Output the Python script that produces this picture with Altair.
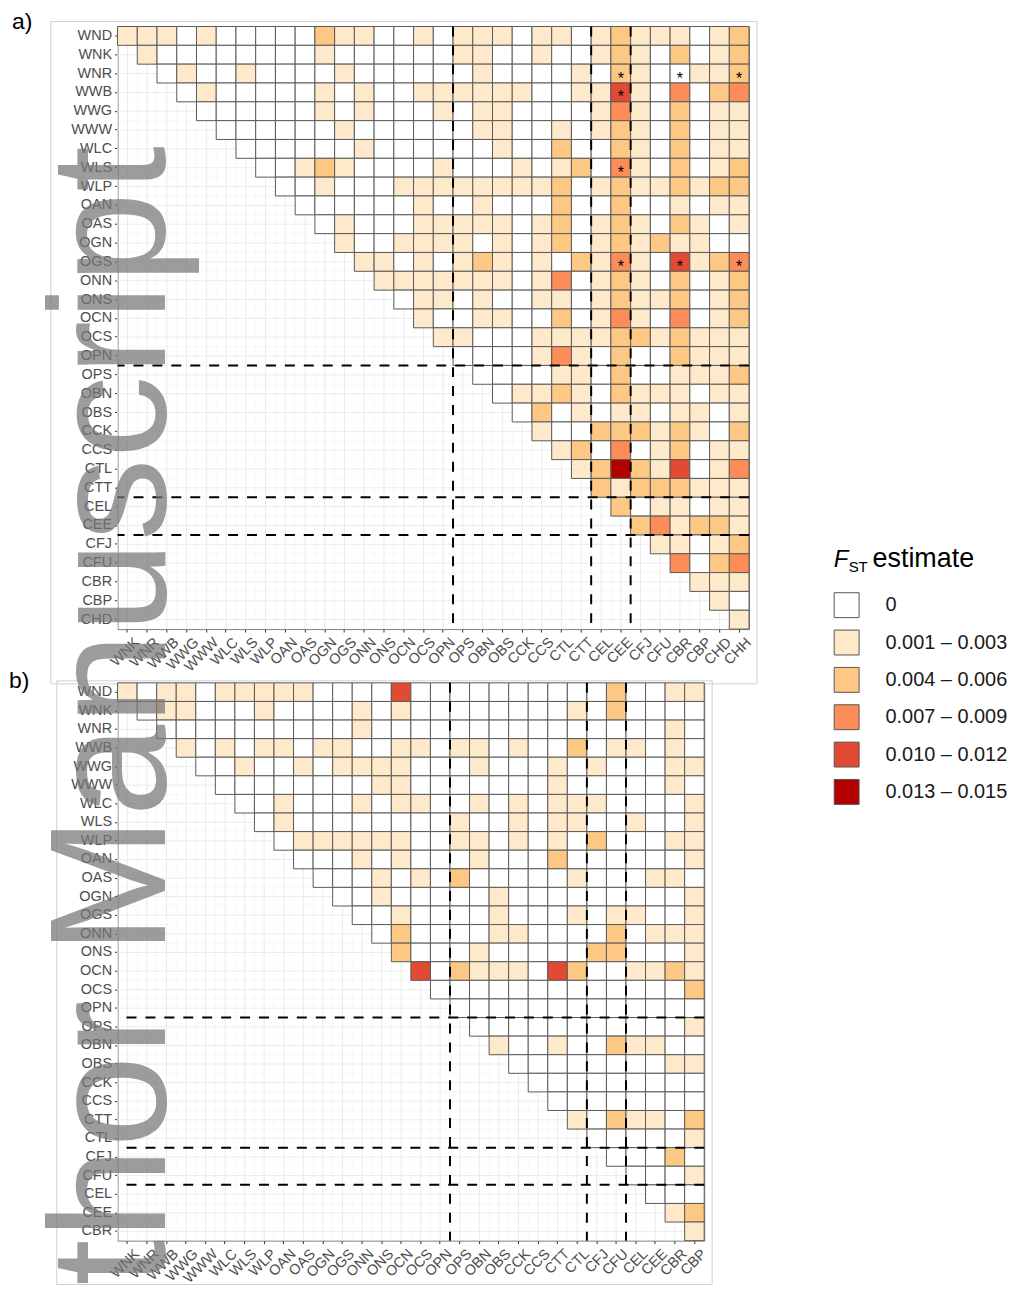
import altair as alt
import pandas as pd

FONT = "Liberation Sans"

LEVEL_LABELS = ["0", "0.001 – 0.003", "0.004 – 0.006", "0.007 – 0.009",
                "0.010 – 0.012", "0.013 – 0.015"]
LEVEL_COLORS = ["#ffffff", "#feeacb", "#fdc883", "#fc8d59", "#e34a33", "#b30000"]

# ---------------- panel a ----------------
A_ROWS = ["WND", "WNK", "WNR", "WWB", "WWG", "WWW", "WLC", "WLS", "WLP", "OAN",
          "OAS", "OGN", "OGS", "ONN", "ONS", "OCN", "OCS", "OPN", "OPS", "OBN",
          "OBS", "CCK", "CCS", "CTL", "CTT", "CEL", "CEE", "CFJ", "CFU", "CBR",
          "CBP", "CHD"]
A_COLS = ["WNK", "WNR", "WWB", "WWG", "WWW", "WLC", "WLS", "WLP", "OAN", "OAS",
          "OGN", "OGS", "ONN", "ONS", "OCN", "OCS", "OPN", "OPS", "OBN", "OBS",
          "CCK", "CCS", "CTL", "CTT", "CEL", "CEE", "CFJ", "CFU", "CBR", "CBP",
          "CHD", "CHH"]
# level class of each cell, row i starts at column i (0 = white ... 5 = dark red)
A_LEVELS = [
    "1110100000" "2110010111" "0110121110" "12",
    "1" "00000000" "1000000110" "0100121020" "12",
    "01001000" "0100000010" "0001021001" "12",
    "0100000" "1010011111" "1001141030" "23",
    "000000" "1010001011" "0000131020" "11",
    "00000" "0100000011" "0010121020" "11",
    "0000" "0010000001" "0020021020" "11",
    "001" "2100001000" "1012031020" "12",
    "00" "1000111111" "1120121121" "22",
    "0" "0000010010" "0020020010" "11",
    "0100011111" "0120121021" "01",
    "100111101" "0120121211" "00",
    "11010121" "0102131041" "23",
    "1111111" "0130121020" "12",
    "011010" "0110121120" "12",
    "10011" "0020131030" "12",
    "1100" "0111122121" "11",
    "000" "0131020021" "11",
    "00" "0011020011" "12",
    "0" "1121021110" "11",
    "0201011011" "01",
    "100222121" "02",
    "12030120" "11",
    "1252140" "13",
    "212221" "11",
    "20110" "11",
    "2312" "21",
    "110" "12",
    "30" "23",
    "111",
    "10",
    "1",
]
A_STAR_ROWS = ["WNR", "WNR", "WNR", "WWB", "WLS", "OGS", "OGS", "OGS"]
A_STAR_COLS = ["CEE", "CBR", "CHH", "CEE", "CEE", "CEE", "CBR", "CHH"]
A_SPLITS = ["OPS", "CEL", "CFJ"]

# ---------------- panel b ----------------
B_ROWS = ["WND", "WNK", "WNR", "WWB", "WWG", "WWW", "WLC", "WLS", "WLP", "OAN",
          "OAS", "OGN", "OGS", "ONN", "ONS", "OCN", "OCS", "OPN", "OPS", "OBN",
          "OBS", "CCK", "CCS", "CTT", "CTL", "CFJ", "CFU", "CEL", "CEE", "CBR"]
B_COLS = ["WNK", "WNR", "WWB", "WWG", "WWW", "WLC", "WLS", "WLP", "OAN", "OAS",
          "OGN", "OGS", "ONN", "ONS", "OCN", "OCS", "OPN", "OPS", "OBN", "OBS",
          "CCK", "CCS", "CTT", "CTL", "CFJ", "CFU", "CEL", "CEE", "CBR", "CBP"]
B_LEVELS = [
    "1011011111" "0000400000" "0000020011",
    "011000100" "0010100000" "0001020000",
    "00000000" "0010000000" "0000000010",
    "1010110" "1100110110" "1002011010",
    "001001" "0111100010" "0010100011",
    "00000" "0001100000" "0010000010",
    "0010" "0010110010" "1011100001",
    "010" "0000000100" "1011001001",
    "01" "1111100110" "1010200011",
    "0" "0010100010" "0020000001",
    "0001010200" "0001000110",
    "001000001" "0000000001",
    "00100001" "0001011001",
    "0200001" "1000020111",
    "200010" "0000220001",
    "40211" "1042001121",
    "0000" "0000000002",
    "000" "0000000000",
    "00" "0000000001",
    "1" "0010021100",
    "0000000011",
    "000000000",
    "00000000",
    "1021102",
    "000001",
    "00020",
    "0001",
    "000",
    "12",
    "1",
]
B_SPLITS = ["OPS", "CFJ", "CEL"]

ONE = pd.DataFrame({"k": [0]})

LEG = alt.Legend(title=None, orient="none", legendX=719, legendY=568,
                 direction="vertical", symbolType="square", symbolSize=625,
                 symbolStrokeColor="#555555", symbolStrokeWidth=1,
                 labelFont=FONT, labelFontSize=20, labelColor="#1a1a1a",
                 labelOffset=26, rowPadding=7.5, padding=0, labelLimit=300)


def cell_frame(rows, cols, levels):
    recs = []
    for i, (r, s) in enumerate(zip(rows, levels)):
        assert len(s) == len(cols) - i, (r, len(s))
        for k, ch in enumerate(s):
            recs.append({"row": r, "col": cols[i + k], "lvl": LEVEL_LABELS[int(ch)]})
    return pd.DataFrame(recs)


def text_layer(txt, x, y, size, **kw):
    return alt.Chart(ONE).mark_text(text=txt, font=FONT, fontSize=size,
                                    align=kw.pop("align", "left"),
                                    baseline=kw.pop("baseline", "alphabetic"),
                                    **kw).encode(x=alt.value(x), y=alt.value(y))


def panel(rows, cols, levels, splits, star_rows, star_cols, w, h, frame, extras):
    xs = alt.Scale(domain=cols, paddingInner=0, paddingOuter=0)
    ys = alt.Scale(domain=rows, paddingInner=0, paddingOuter=0)
    xaxis = alt.Axis(title=None, labelAngle=-45, labelAlign="right", labelBaseline="top",
                     labelFont=FONT, labelFontSize=14.5, labelColor="#4d4d4d",
                     tickColor="#333333", tickSize=3, tickWidth=1, domain=False,
                     grid=False, labelPadding=3, labelOffset=5)
    yaxis = alt.Axis(title=None, labelFont=FONT, labelFontSize=14.5, labelColor="#4d4d4d",
                     tickColor="#333333", tickSize=3, tickWidth=1, domain=False,
                     grid=False, labelPadding=3)
    gx = pd.DataFrame({"col": cols})
    gy = pd.DataFrame({"row": rows})
    fx1, fx2, fy1, fy2 = frame
    layers = [alt.Chart(ONE).mark_rect(fillOpacity=0, stroke="#d0d0d0", strokeWidth=1).encode(
        x=alt.value(fx1), x2=alt.value(fx2), y=alt.value(fy1), y2=alt.value(fy2))]
    for bp, colr, sw in [(0, "#f3f3f3", 0.6), (0.5, "#ebebeb", 1.0)]:
        layers.append(alt.Chart(gx).mark_rule(color=colr, strokeWidth=sw).encode(
            x=alt.X("col:N", scale=xs, axis=xaxis, bandPosition=bp)))
        layers.append(alt.Chart(gy).mark_rule(color=colr, strokeWidth=sw).encode(
            y=alt.Y("row:N", scale=ys, axis=yaxis, bandPosition=bp)))
    layers.append(alt.Chart(cell_frame(rows, cols, levels)).mark_rect(
        stroke="#5a5a5a", strokeWidth=1).encode(
        x=alt.X("col:N", scale=xs, axis=xaxis),
        y=alt.Y("row:N", scale=ys, axis=yaxis),
        color=alt.Color("lvl:N", scale=alt.Scale(domain=LEVEL_LABELS, range=LEVEL_COLORS),
                        legend=LEG)))
    if star_rows:
        st = pd.DataFrame({"row": star_rows, "col": star_cols})
        layers.append(alt.Chart(st).mark_text(text="*", font=FONT, fontSize=16, dy=5,
                                              color="#000000").encode(
            x=alt.X("col:N", scale=xs, axis=xaxis),
            y=alt.Y("row:N", scale=ys, axis=yaxis)))
    sx = pd.DataFrame({"col": splits})
    sy = pd.DataFrame({"row": splits})
    layers.append(alt.Chart(sx).mark_rule(color="#000000", strokeWidth=2, strokeDash=[10, 9]).encode(
        x=alt.X("col:N", scale=xs, axis=xaxis, bandPosition=0)))
    layers.append(alt.Chart(sy).mark_rule(color="#000000", strokeWidth=2, strokeDash=[10, 9]).encode(
        y=alt.Y("row:N", scale=ys, axis=yaxis, bandPosition=0)))
    layers += extras
    return alt.layer(*layers).properties(width=w, height=h)


extras_a = [
    text_layer("a)", -106, 3, 23, color="#000000"),
    text_layer("F", 719, 543, 24, fontStyle="italic", color="#000000"),
    text_layer("ST", 734, 548, 15, color="#000000"),
    text_layer("estimate", 758, 543, 27, color="#000000"),
]
extras_b = [
    text_layer("b)", -109, 5, 23, color="#000000"),
    text_layer("thor Manuscript", 48, -539, 166, angle=270, align="right",
               color="#777777", opacity=0.72),
]

pa = panel(A_ROWS, A_COLS, A_LEVELS, A_SPLITS, A_STAR_ROWS, A_STAR_COLS,
           634, 605, (-67, 642, -5, 660), extras_a)
pb = panel(B_ROWS, B_COLS, B_LEVELS, B_SPLITS, [], [],
           589, 560, (-61, 597, -2, 604), extras_b)

chart = alt.vconcat(pa, pb, spacing=54, bounds="flush").properties(padding=0).configure_view(
    stroke="#808080", strokeWidth=1)

chart.save("out.html", embed_options={"renderer": "svg", "actions": False})
